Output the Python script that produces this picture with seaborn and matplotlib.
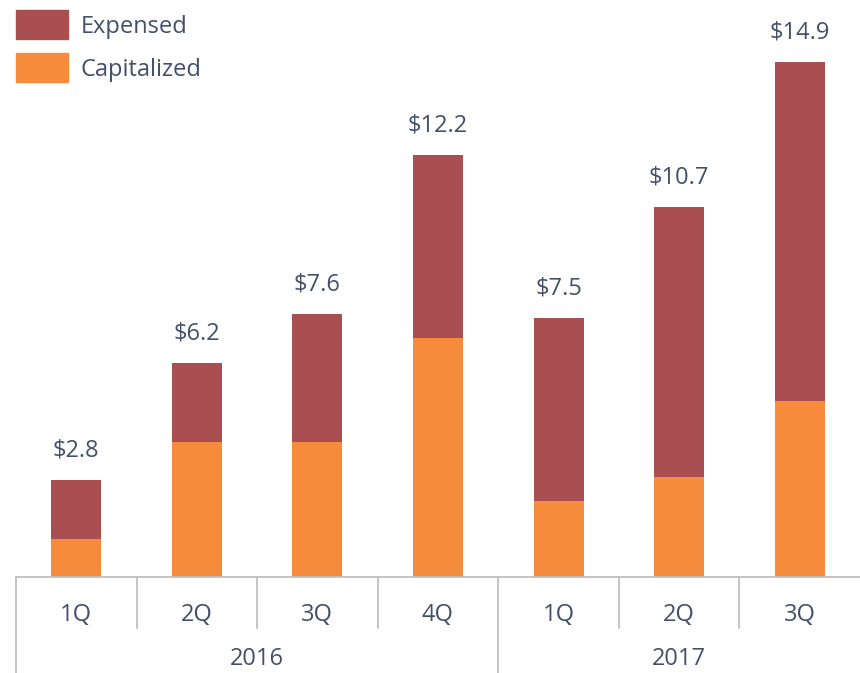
import warnings
warnings.simplefilter("ignore")

import numpy as np
import pandas as pd
import seaborn as sns
import matplotlib.pyplot as plt
from matplotlib.patches import Patch
import matplotlib.transforms as mtransforms

sns.set_style('white')
plt.rcParams['font.family'] = ['Open Sans', 'DejaVu Sans']

# data ($)
quarters = ['1Q', '2Q', '3Q', '4Q', '1Q', '2Q', '3Q']
years = ['2016', '2017']
year_span = [(0, 3), (4, 6)]
capitalized = [1.1, 3.9, 3.9, 6.9, 2.2, 2.9, 5.1]
expensed = [1.7, 2.3, 3.7, 5.3, 5.3, 7.8, 9.8]

exp_color = '#A94F52'
cap_color = '#F78B3C'
txt_color = '#44506B'
fs = 17

df = pd.DataFrame({'pos': range(len(quarters)),
                   'cap': capitalized,
                   'exp': expensed})
df['total'] = df['cap'] + df['exp']

fig = plt.figure(figsize=(8.6, 6.73), dpi=100)
ax = fig.add_axes([0.0186, 0.1426, 0.9814, 0.8574])

sns.barplot(data=df, x='pos', y='total', color=exp_color, width=0.415,
            saturation=1, linewidth=0, ax=ax)
sns.barplot(data=df, x='pos', y='cap', color=cap_color, width=0.415,
            saturation=1, linewidth=0, ax=ax)

for i, t in enumerate(df['total']):
    ax.text(i, t + 0.5, '${:.1f}'.format(t), ha='center', va='bottom',
            fontsize=fs, color=txt_color)

ax.set_ylim(0, 16.68)
ax.set_xlim(-0.5, len(quarters) - 0.5)
ax.set_yticks([])
ax.set_xlabel('')
ax.set_ylabel('')
ax.set_xticks(range(len(quarters)))
ax.set_xticklabels(quarters, fontsize=fs, color=txt_color)
ax.tick_params(axis='x', length=0, pad=19)
for s in ['top', 'right', 'left']:
    ax.spines[s].set_visible(False)
ax.spines['bottom'].set_color('#BFBFBF')
ax.spines['bottom'].set_linewidth(1.3)

# category separators below the axis
trans = mtransforms.blended_transform_factory(ax.transData, ax.transAxes)
for b in np.arange(-0.5, len(quarters) - 0.5, 1.0):
    long_one = b == -0.5 or b == 3.5
    y0 = -0.166 if long_one else -0.0884
    ax.plot([b, b], [0, y0], transform=trans, color='#BFBFBF', lw=1.3,
            clip_on=False)

for yr, (a, b) in zip(years, year_span):
    ax.text((a + b) / 2, -0.142, yr, transform=trans, ha='center',
            va='center', fontsize=fs, color=txt_color)

handles = [Patch(color=exp_color, label='Expensed'),
           Patch(color=cap_color, label='Capitalized')]
leg = ax.legend(handles=handles, loc='upper left', bbox_to_anchor=(0.0, 0.982),
                frameon=False, fontsize=fs, handlelength=2.2,
                handleheight=1.5, handletextpad=0.55, labelspacing=0.6,
                borderaxespad=0, borderpad=0)
for t in leg.get_texts():
    t.set_color(txt_color)

plt.savefig('out.png', dpi=100)
